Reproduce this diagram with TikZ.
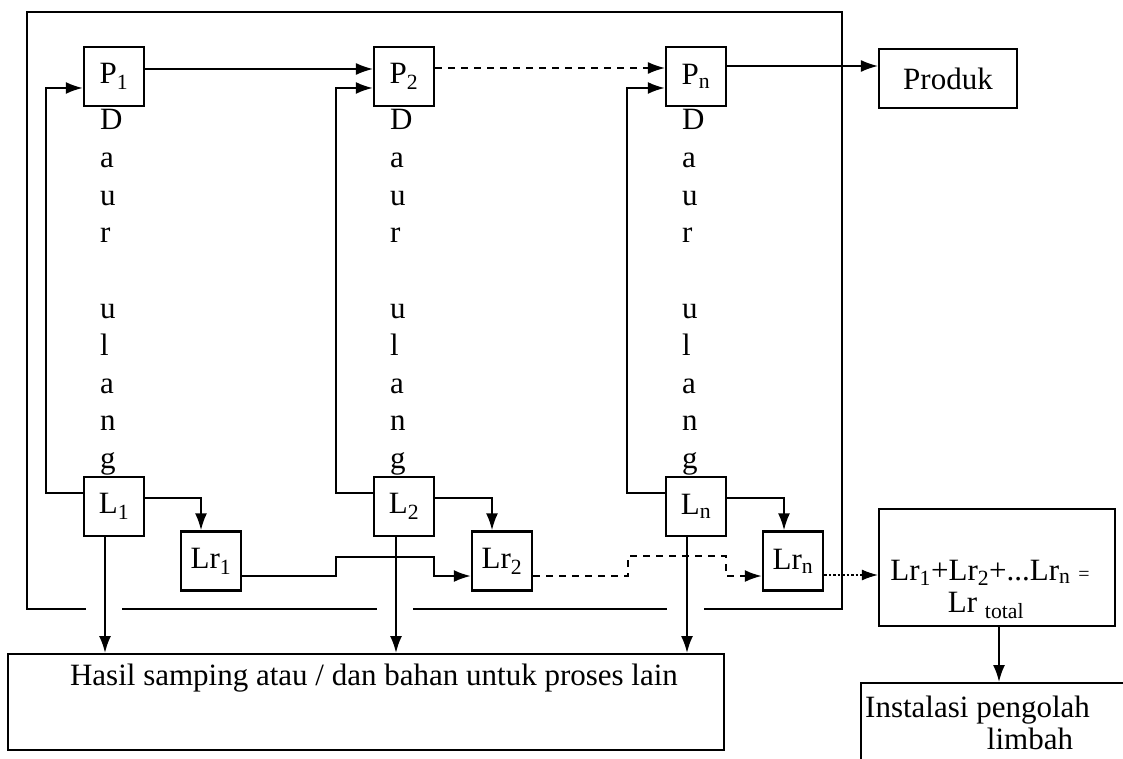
\documentclass[tikz,border=0pt]{standalone}
\usepackage{fontspec}
\setmainfont{Liberation Serif}
\usetikzlibrary{arrows.meta,calc}
\newcommand\Sb[1]{\textsubscript{#1}}
\begin{document}
\begin{tikzpicture}[x=1pt,y=-1pt,
  font=\fontsize{31}{37.6}\selectfont,
  box/.style={draw,line width=2.4pt,minimum width=60pt,minimum height=59pt,inner sep=0pt},
  frameline/.style={line width=2.6pt},
  conn/.style={line width=2pt},
  arr/.style={conn,-{Latex[length=17pt,width=12pt]}},
  thinarr/.style={line width=1.3pt,-{Latex[length=17pt,width=12pt]}},
  dotarr/.style={line width=1.1pt,dash pattern=on 2.5pt off 2pt,-{Latex[length=16pt,width=11pt]}},
  letter/.style={anchor=base west,inner sep=0pt}]
\useasboundingbox (0,0) rectangle (1123,759);
\fill[white] (0,0) rectangle (1123,759);

% outer frame (with gaps for the down arrows)
\draw[frameline] (86,609) -- (27,609) -- (27,12) -- (842,12) -- (842,609) -- (704,609);
\draw[frameline] (122,609) -- (377,609);
\draw[frameline] (413,609) -- (667,609);

% process boxes
\node[box] (p1) at (114,76.5) {P\Sb{1}};
\node[box] (p2) at (404,76.5) {P\Sb{2}};
\node[box] (pn) at (696,76.5) {P\Sb{n}};
\node[box] (l1) at (114,506.5) {L\Sb{1}};
\node[box] (l2) at (404,506.5) {L\Sb{2}};
\node[box] (ln) at (696,506.5) {L\Sb{n}};
\node[box] (lr1) at (211,561) {Lr\Sb{1}};
\node[box] (lr2) at (502,561) {Lr\Sb{2}};
\node[box] (lrn) at (793,561) {Lr\Sb{n}};
\node[box,minimum width=138pt] (prod) at (948,78.5) {Produk};

% "Daur ulang" vertical text
\foreach \cx/\c in {100/1,390/2,682/3}{
  \foreach \ch/\k in {D/0,a/1,u/2,r/3,u/5,l/6,a/7,n/8,g/9}{
    \node[letter] (d\c-\k) at (\cx,130+37.6*\k) {\ch};
  }
}

% total box
\node[box,minimum width=236pt,minimum height=117pt] (tot) at (997,567.5) {};
\node[anchor=base,inner sep=0pt] (tot1) at (990,580) {Lr\Sb{1}+Lr\Sb{2}+...Lr\Sb{n} {\fontsize{20}{20}\selectfont =}};
\node[anchor=base,inner sep=0pt] (tot2) at (986,612) {Lr \Sb{total}};

% waste treatment box (cut off at the edge)
\node[box,anchor=north west,minimum width=300pt,minimum height=130pt] (inst) at (860,682) {};
\node[anchor=base west,inner sep=0pt] (inst1) at (865,717) {Instalasi pengolah};
\node[anchor=base,inner sep=0pt] (inst2) at (1030,749) {limbah};

% by-product box
\node[box,anchor=north west,minimum width=716pt,minimum height=96pt] (hasil) at (7,653) {};
\node[anchor=base,inner sep=0pt] (hasiltxt) at (374,685) {Hasil samping atau / dan bahan untuk proses lain};

% forward flow
\draw[thinarr] ([yshift=7.5pt]p1.east) -- ([yshift=7.5pt]p2.west);
\draw[thinarr,dash pattern=on 7pt off 6pt] ([yshift=8.5pt]p2.east) -- ([yshift=8.5pt]pn.west);
\coordinate (pnout) at ([yshift=10.5pt]pn.east);
\draw[thinarr] (pnout) -- (pnout -| prod.west);

% recycle loops
\draw[arr] ([yshift=13.5pt]l1.west) -- ++(-37,0) |- ([yshift=-11.5pt]p1.west);
\draw[arr] ([yshift=13.5pt]l2.west) -- ++(-37,0) |- ([yshift=-11.5pt]p2.west);
\draw[arr] ([yshift=13.5pt]ln.west) -- ++(-38,0) |- ([yshift=-11.5pt]pn.west);

% L -> Lr
\draw[arr] ([yshift=9pt]l1.east) -| ([xshift=-10pt]lr1.north);
\draw[arr] ([yshift=9pt]l2.east) -| ([xshift=-10pt]lr2.north);
\draw[arr] ([yshift=9pt]ln.east) -| ([xshift=-9pt]lrn.north);

% Lr chain
\coordinate (r1o) at ([yshift=-15pt]lr1.east);
\draw[arr] (r1o) -- ++(94,0) -- ++(0,-19) -- ++(98,0) -- ++(0,19) -- (r1o -| lr2.west);
\coordinate (r2o) at ([yshift=-15pt]lr2.east);
\draw[arr,dash pattern=on 7pt off 6pt] (r2o) -- ++(95,0) -- ++(0,-20) -- ++(98,0) -- ++(0,20) -- (r2o -| lrn.west);
\coordinate (rno) at ([yshift=-14pt]lrn.east);
\draw[dotarr] (rno) -- (rno -| tot.west);

% down to by-products
\coordinate (l1d) at ([xshift=-9pt]l1.south);
\coordinate (l2d) at ([xshift=-8pt]l2.south);
\coordinate (lnd) at ([xshift=-9pt]ln.south);
\draw[arr] (l1d) -- (l1d |- hasil.north);
\draw[arr] (l2d) -- (l2d |- hasil.north);
\draw[arr] (lnd) -- (lnd |- hasil.north);

% total -> treatment
\coordinate (totd) at ([xshift=2pt]tot.south);
\draw[arr] (totd) -- (totd |- inst.north);
\end{tikzpicture}
\end{document}
